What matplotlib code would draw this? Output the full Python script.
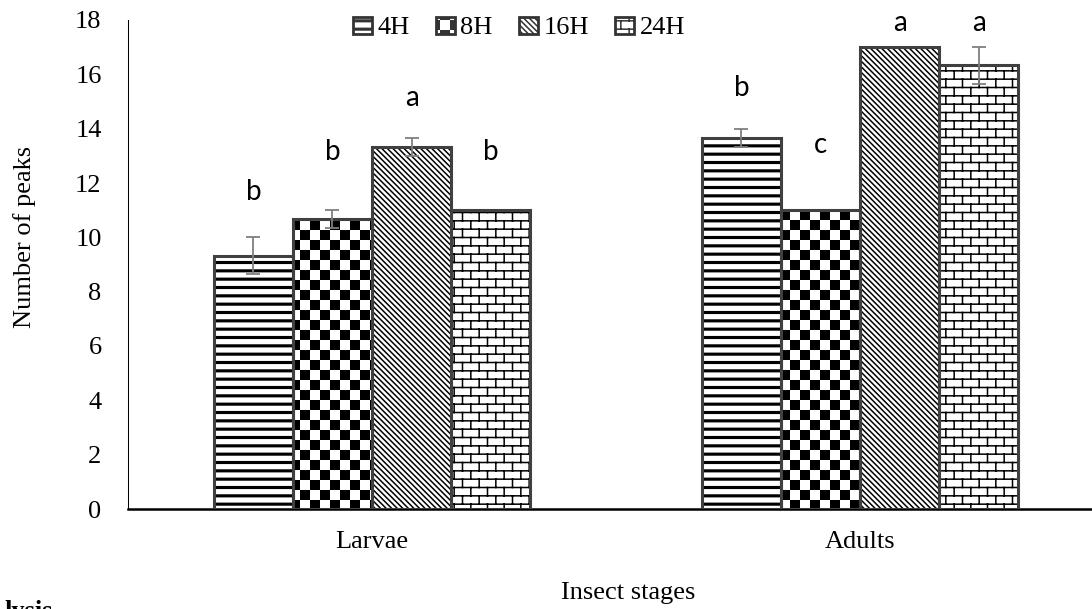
import numpy as np
import matplotlib
matplotlib.use("Agg")
import matplotlib.pyplot as plt
from matplotlib import hatch as mhatch
from matplotlib.patches import Patch
from matplotlib.path import Path

# Données
stades = ["Larvae", "Adults"]
durees = ["4H", "8H", "16H", "24H"]

pics_4h = [9.33, 13.67]
pics_8h = [10.67, 11.0]
pics_16h = [13.33, 17.0]
pics_24h = [11.0, 16.33]

err_4h = [0.67, 0.33]
err_8h = [0.33, 0.0]
err_16h = [0.33, 0.0]
err_24h = [0.0, 0.67]

lettres_4h = ["b", "b"]
lettres_8h = ["b", "c"]
lettres_16h = ["a", "a"]
lettres_24h = ["b", "a"]

# hauteur des lettres (unités de l'axe y)
haut_4h = [11.67, 15.5]
haut_8h = [13.14, 13.4]
haut_16h = [15.13, 17.9]
haut_24h = [13.14, 17.9]

valeurs = [pics_4h, pics_8h, pics_16h, pics_24h]
erreurs = [err_4h, err_8h, err_16h, err_24h]
lettres = [lettres_4h, lettres_8h, lettres_16h, lettres_24h]
hauteurs = [haut_4h, haut_8h, haut_16h, haut_24h]


def rectangle(vertices, codes, k, x0, y0, x1, y1):
    vertices[k:k + 5] = [(x0, y0), (x1, y0), (x1, y1), (x0, y1), (x0, y0)]
    codes[k:k + 5] = [Path.MOVETO, Path.LINETO, Path.LINETO,
                      Path.LINETO, Path.CLOSEPOLY]
    return k + 5


# Lignes horizontales épaisses (caractère 'h')
class Lignes(mhatch.HatchPatternBase):
    def __init__(self, hatch, density):
        self.n = 12
        self.num_vertices = self.n * 5 if 'h' in hatch else 0

    def set_vertices_and_codes(self, vertices, codes):
        pas = 1.0 / self.n
        k = 0
        for r in range(self.n):
            y = r * pas + pas / 2
            k = rectangle(vertices, codes, k, 0, y - 0.008, 1, y + 0.008)


# Motif damier (caractère 'k')
class Damier(mhatch.HatchPatternBase):
    def __init__(self, hatch, density):
        self.n = 10
        self.num_vertices = (self.n * self.n // 2) * 5 if 'k' in hatch else 0

    def set_vertices_and_codes(self, vertices, codes):
        pas = 1.0 / self.n
        m = 0.0076  # compense l'épaisseur du trait
        k = 0
        for i in range(self.n):
            for j in range(self.n):
                if (i + j) % 2 == 0:
                    k = rectangle(vertices, codes, k, i * pas + m, j * pas + m,
                                  (i + 1) * pas - m, (j + 1) * pas - m)


# Motif briques (caractère 'q')
class Briques(mhatch.HatchPatternBase):
    def __init__(self, hatch, density):
        self.rangs = 12
        self.cols = 6
        self.num_vertices = (self.rangs + (self.rangs + 1) * self.cols) * 2 if 'q' in hatch else 0

    def set_vertices_and_codes(self, vertices, codes):
        h = 1.0 / self.rangs
        w = 1.0 / self.cols
        k = 0
        for r in range(self.rangs):
            y = r * h + h / 2
            vertices[k:k + 2] = [(0, y), (1, y)]
            codes[k:k + 2] = [Path.MOVETO, Path.LINETO]
            k += 2
        for r in range(-1, self.rangs):
            y0 = r * h + h / 2
            decal = 0 if r % 2 == 0 else w / 2
            for c in range(self.cols):
                x = c * w + w / 4 + decal
                vertices[k:k + 2] = [(x, y0), (x, y0 + h)]
                codes[k:k + 2] = [Path.MOVETO, Path.LINETO]
                k += 2


mhatch._hatch_types.extend([Lignes, Damier, Briques])
mhatch._validate_hatch_pattern = lambda h: None

plt.rcParams['hatch.linewidth'] = 1.1
plt.rcParams['hatch.color'] = 'black'

motifs = ['h', 'k', '\\' * 6, 'q']
police_serif = 'Liberation Serif'
police_lettres = 'Lato'

fig = plt.figure(figsize=(10.92, 6.09), dpi=100)
ax = fig.add_axes([128 / 1092, 1 - 509 / 609, 976 / 1092, 489 / 609])

x = np.arange(len(stades))
largeur = 0.162

for i in range(len(durees)):
    pos = x + (i - 1.5) * largeur
    ax.bar(pos, valeurs[i], largeur, color='white', edgecolor='black',
           linewidth=0, hatch=motifs[i], zorder=2)
    ax.bar(pos, valeurs[i], largeur, fill=False, edgecolor='#404040',
           linewidth=2.2, zorder=3)

    # barres d'erreur (seulement si non nulles)
    for p, v, e in zip(pos, valeurs[i], erreurs[i]):
        if e > 0:
            ax.errorbar(p, v, yerr=e, fmt='none', ecolor='#7f7f7f',
                        elinewidth=1.3, capsize=5, capthick=1.3, zorder=4)

    for p, lettre, hy in zip(pos, lettres[i], hauteurs[i]):
        ax.text(p, hy, lettre, ha='center', va='center', fontsize=20,
                family=police_lettres, color='black')

ax.set_xlim(-0.5, 1.5)
ax.set_ylim(0, 18)
ax.set_yticks(np.arange(0, 19, 2))
ax.set_xticks(x)
ax.set_xticklabels(stades)

for s in ['top', 'right']:
    ax.spines[s].set_visible(False)
ax.spines['left'].set_linewidth(0.75)
ax.spines['left'].set_color('black')
ax.spines['bottom'].set_linewidth(1.8)
ax.spines['bottom'].set_color('black')

ax.tick_params(axis='both', length=0, labelsize=19)
ax.tick_params(axis='y', pad=19)
ax.tick_params(axis='x', pad=16)
for lab in ax.get_xticklabels() + ax.get_yticklabels():
    lab.set_family(police_serif)

fig.text(25 / 1092, 1 - 237 / 609, "Number of peaks", rotation=90,
         ha='center', va='center', fontsize=19, family=police_serif)
fig.text(628 / 1092, 1 - 593 / 609, "Insect stages", ha='center', va='center',
         fontsize=19, family=police_serif)

# fragment de texte coupé en bas à gauche (comme sur l'original)
fig.text(0.004, -9 / 609, "lysis", ha='left', va='baseline', fontsize=19,
         family=police_serif, fontweight='bold')

poignees = [Patch(facecolor='white', edgecolor='#333333', linewidth=2,
                  hatch=motifs[i], label=durees[i]) for i in range(len(durees))]
fig.legend(handles=poignees, loc='center', bbox_to_anchor=(519 / 1092, 1 - 28 / 609),
           ncol=4, frameon=False, prop={'family': police_serif, 'size': 19},
           handlelength=0.72, handleheight=0.64, handletextpad=0.2,
           columnspacing=1.0, borderpad=0)

fig.savefig("out.png", dpi=100)
